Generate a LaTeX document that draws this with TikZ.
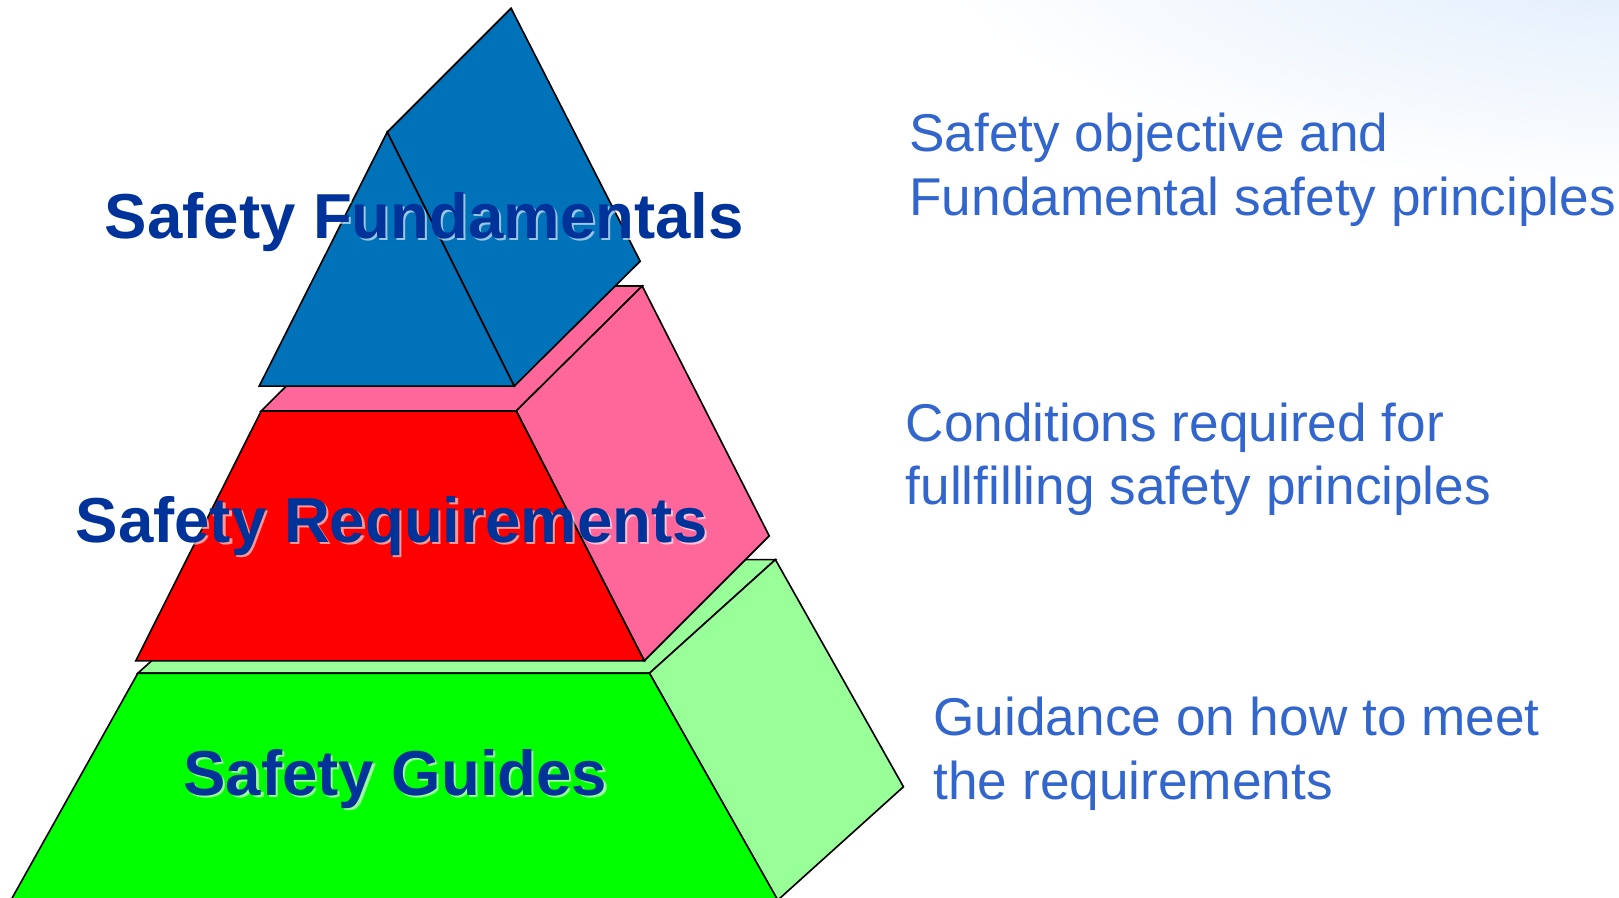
\documentclass[tikz,border=0pt]{standalone}
\usepackage{fontspec}
\setmainfont{Liberation Sans}
\definecolor{prismblue}{HTML}{0072BA}
\definecolor{rosepink}{HTML}{FF6699}
\definecolor{palegreen}{HTML}{99FF99}
\definecolor{titleblue}{HTML}{003399}
\definecolor{noteblue}{HTML}{3366CC}
\definecolor{skyblue}{HTML}{DAE9FB}
\begin{document}
\begin{tikzpicture}[x=0.01cm,y=-0.01cm,
  face/.style={draw=black,line width=0.45pt,line join=miter},
  title/.style={font=\fontsize{17.5}{21}\selectfont\bfseries,text=titleblue,inner sep=0pt,anchor=base},
  glow/.style={title,text=white,opacity=0.6},
  note/.style={font=\fontsize{14.65}{17.6}\selectfont,text=noteblue,inner sep=0pt,align=left,anchor=base west}]
\useasboundingbox (0,0) rectangle (1568,869);
\begin{scope}
\clip (0,0) rectangle (1568,869);
\fill[white] (0,0) rectangle (1568,869);
\shade[inner color=skyblue,outer color=white] (1640,-80) ellipse (760 and 270);
% bottom layer
\draw[face,fill=palegreen] (133.5,652) -- (629,652) -- (751,542) -- (255.5,542) -- cycle;
\draw[face,fill=palegreen] (629,652) -- (751,542) -- (875,762) -- (753,872) -- cycle;
\draw[face,fill=green] (133.5,652) -- (629,652) -- (758,880) -- (6,880) -- cycle;
% middle layer
\draw[face,fill=rosepink] (253,398) -- (500,398) -- (622,277) -- (375,277) -- cycle;
\draw[face,fill=rosepink] (500,398) -- (622,277) -- (745,519) -- (624,640) -- cycle;
\draw[face,fill=red] (131.5,640) -- (624,640) -- (500,398) -- (253,398) -- cycle;
% top prism
\draw[face,fill=prismblue] (375,128) -- (495,8) -- (620,253) -- (498,374) -- cycle;
\draw[face,fill=prismblue] (251,374) -- (375,128) -- (498,374) -- cycle;
\end{scope}
\node[glow] at (413,233) {Safety Fundamentals};
\node[title] (fund) at (411,231) {Safety Fundamentals};
\node[glow] at (381.5,527) {Safety Requirements};
\node[title] (req) at (379.5,525) {Safety Requirements};
\node[glow] at (385,772) {Safety Guides};
\node[title] (guides) at (383,770) {Safety Guides};
\node[note] (objective) at (880,209) {Safety objective and\\Fundamental safety principles};
\node[note] (conditions) at (876.5,489) {Conditions required for\\fullfilling safety principles};
\node[note] (guidance) at (903.5,774) {Guidance on how to meet\\the requirements};
\end{tikzpicture}
\end{document}
